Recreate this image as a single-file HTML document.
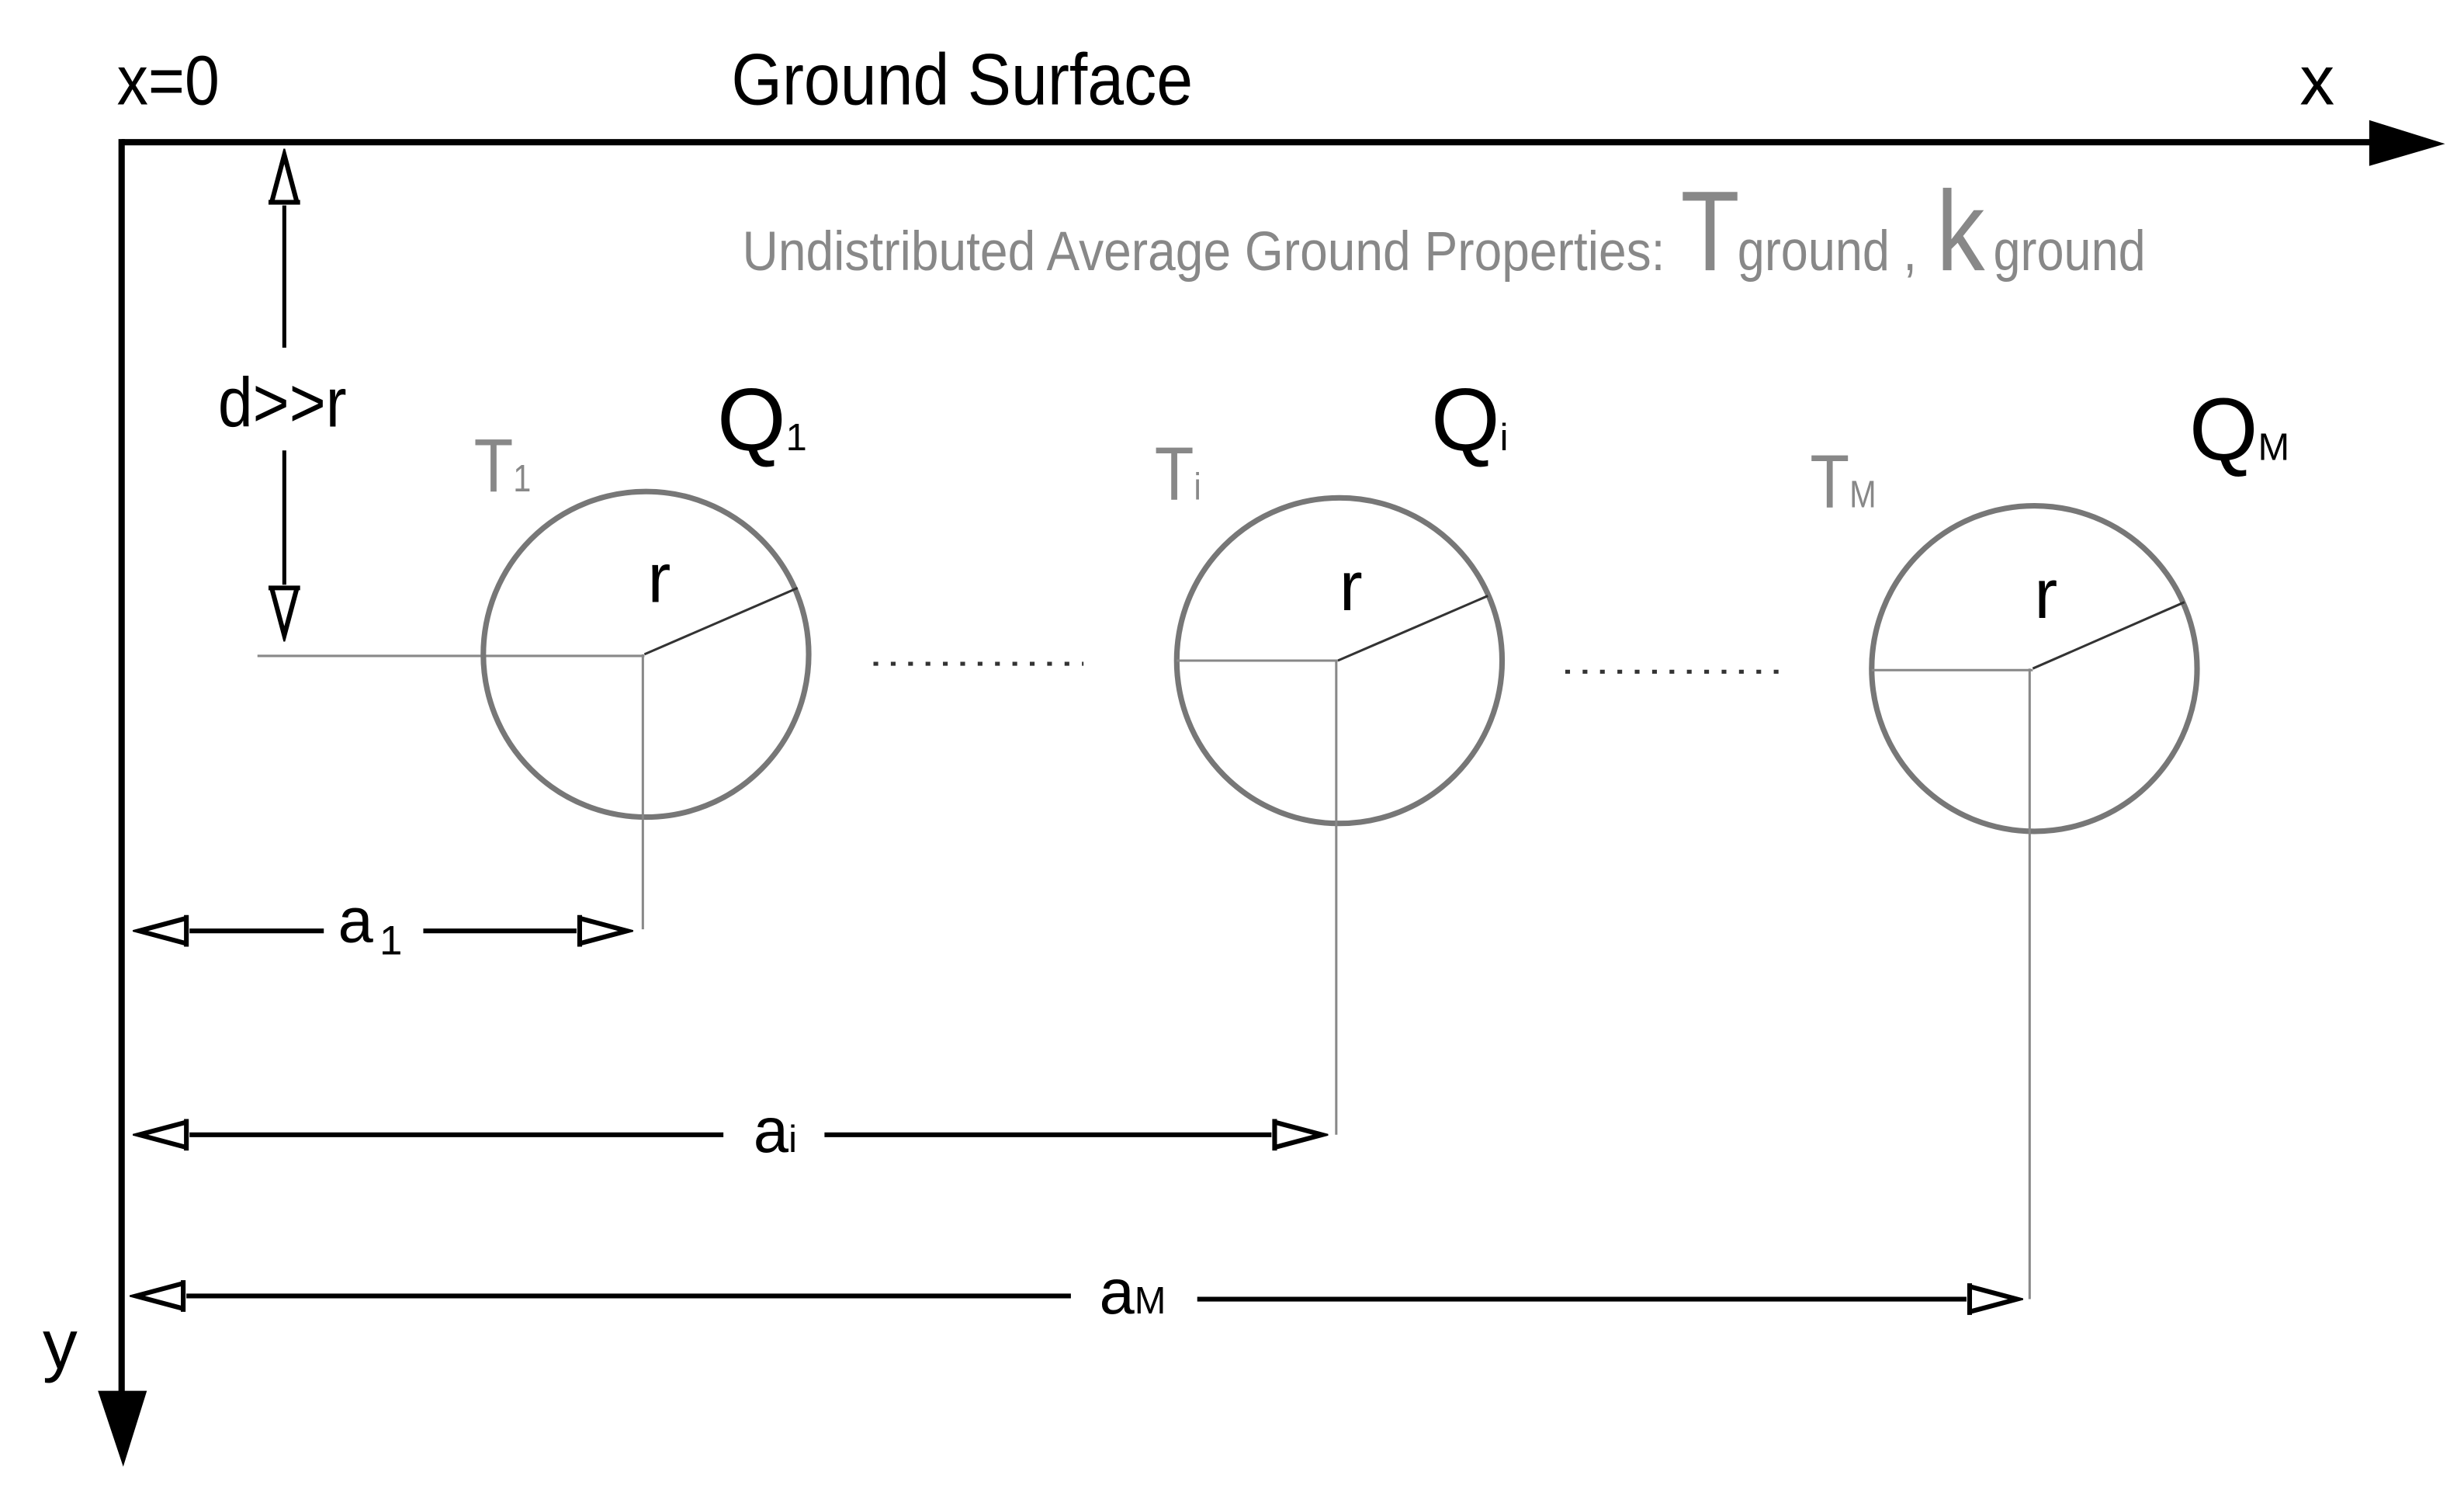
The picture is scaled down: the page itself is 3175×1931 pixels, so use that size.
<!DOCTYPE html>
<html><head><style>html,body{margin:0;padding:0;background:#fff;overflow:hidden}</style></head>
<body>
<svg width="3175" height="1926" viewBox="0 0 1560 946" preserveAspectRatio="none" xmlns="http://www.w3.org/2000/svg" font-family="Liberation Sans, sans-serif">
<defs>
<marker id="h" viewBox="0 0 36 22" refX="0" refY="11" markerWidth="36" markerHeight="22" markerUnits="userSpaceOnUse" orient="auto">
<path d="M2,1 L2,21 M2,3 L32,11 L2,19" fill="none" stroke="#000" stroke-width="3"/>
</marker>
</defs>
<!-- axes -->
<line x1="77" y1="90" x2="1505" y2="90" stroke="#000" stroke-width="4"/>
<polygon points="1500,76 1548,91 1500,105" fill="#000"/>
<line x1="77" y1="88" x2="77" y2="885" stroke="#000" stroke-width="4"/>
<polygon points="62,880 78,928 93,880" fill="#000"/>
<text x="74" y="66" font-size="44" transform="scale(0.9,1)" transform-origin="74 66">x=0</text>
<text x="463" y="66" font-size="46" transform="scale(0.9,1)" transform-origin="463 66">Ground Surface</text>
<text x="1456" y="66" font-size="44">x</text>
<text x="27" y="866" font-size="44">y</text>
<!-- grey header -->
<g fill="#888">
<text x="470" y="171" font-size="35" transform="scale(0.9,1)" transform-origin="470 171">Undistributed Average Ground Properties:</text>
<text x="1064" y="171" font-size="72" transform="scale(0.85,1)" transform-origin="1064 171">T</text>
<text x="1100" y="171" font-size="36" transform="scale(0.86,1)" transform-origin="1100 171">ground ,</text>
<text x="1226" y="171" font-size="72" transform="scale(0.85,1)" transform-origin="1226 171">k</text>
<text x="1262" y="171" font-size="36" transform="scale(0.86,1)" transform-origin="1262 171">ground</text>
</g>
<!-- d>>r -->
<line x1="180" y1="220" x2="180" y2="130" stroke="#000" stroke-width="2.5" marker-end="url(#h)"/>
<line x1="180" y1="285" x2="180" y2="370" stroke="#000" stroke-width="2.5" marker-end="url(#h)"/>
<text x="138" y="270" font-size="44" transform="scale(0.9,1)" transform-origin="138 270">d&gt;&gt;r</text>
<line x1="163" y1="415" x2="408" y2="415" stroke="#888" stroke-width="1.5"/>
<!-- circles -->
<g fill="none" stroke="#777" stroke-width="3.5">
<circle cx="409" cy="414" r="103"/>
<circle cx="848" cy="418" r="103"/>
<circle cx="1288" cy="423" r="103"/>
</g>
<g stroke="#333" stroke-width="1.5">
<line x1="408" y1="414" x2="505" y2="372"/>
<line x1="847" y1="418" x2="942" y2="377"/>
<line x1="1287" y1="423" x2="1383" y2="381"/>
</g>
<g stroke="#888" stroke-width="1.5">
<line x1="745" y1="418" x2="847" y2="418"/>
<line x1="1185" y1="424" x2="1287" y2="424"/>
<line x1="407" y1="414" x2="407" y2="588"/>
<line x1="846" y1="418" x2="846" y2="718"/>
<line x1="1285" y1="423" x2="1285" y2="822"/>
</g>
<g font-size="44">
<text x="410" y="381">r</text><text x="848" y="386">r</text><text x="1288" y="391">r</text>
</g>
<g font-size="56">
<text x="454" y="285">Q<tspan font-size="24">1</tspan></text>
<text x="906" y="285">Q<tspan font-size="24">i</tspan></text>
<text x="1386" y="291">Q<tspan font-size="24">M</tspan></text>
</g>
<g fill="#888" font-size="48">
<text x="300" y="311" transform="scale(0.85,1)" transform-origin="300 311">T<tspan font-size="24">1</tspan></text>
<text x="731" y="316" transform="scale(0.85,1)" transform-origin="731 316">T<tspan font-size="24">i</tspan></text>
<text x="1146" y="321" transform="scale(0.85,1)" transform-origin="1146 321">T<tspan font-size="24">M</tspan></text>
</g>
<g stroke="#333" stroke-width="2.5" stroke-dasharray="3,8">
<line x1="553" y1="420" x2="686" y2="420"/>
<line x1="991" y1="425" x2="1126" y2="425"/>
</g>
<!-- dimensions -->
<g stroke="#000" stroke-width="3" fill="none">
<line x1="205" y1="589" x2="120" y2="589" marker-end="url(#h)"/>
<line x1="268" y1="589" x2="365" y2="589" marker-end="url(#h)"/>
<line x1="458" y1="718" x2="120" y2="718" marker-end="url(#h)"/>
<line x1="522" y1="718" x2="805" y2="718" marker-end="url(#h)"/>
<line x1="678" y1="820" x2="118" y2="820" marker-end="url(#h)"/>
<line x1="758" y1="822" x2="1245" y2="822" marker-end="url(#h)"/>
</g>
<text x="214" y="596" font-size="40">a<tspan font-size="26" dy="8" dx="4">1</tspan></text>
<text x="477" y="729" font-size="40">a<tspan font-size="24">i</tspan></text>
<text x="696" y="831" font-size="40">a<tspan font-size="24">M</tspan></text>
</svg>
</body></html>
